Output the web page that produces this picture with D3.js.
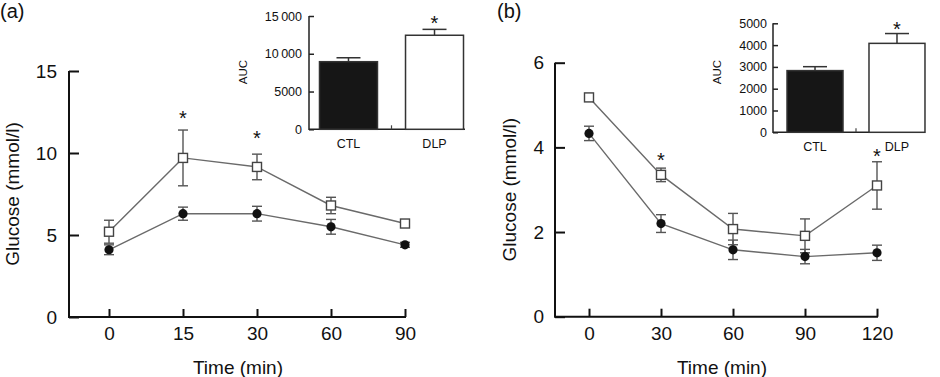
<!DOCTYPE html>
<html>
<head>
<meta charset="utf-8">
<script src="https://cdn.jsdelivr.net/npm/d3@7"></script>
<style>
  html, body { margin: 0; padding: 0; background: #fff; }
  svg { display: block; font-family: "Liberation Sans", Arial, sans-serif; }
</style>
</head>
<body>
<svg id="chart" width="940" height="377"></svg>
<script>
// ── Data ─────────────────────────────────────────────────────────────
const timesA = ["0", "15", "30", "60", "90"];
const ctlA   = [4.1, 6.3, 6.3, 5.5, 4.4];
const ctlAse = [0.3, 0.4, 0.45, 0.45, 0.15];
const dlpA   = [5.2, 9.7, 9.15, 6.8, 5.7];
const dlpAse = [0.7, 1.7, 0.78, 0.5, 0.15];
const sigA   = [null, 12.4, 11.2, null, null];

const timesB = ["0", "30", "60", "90", "120"];
const ctlB   = [4.33, 2.2, 1.58, 1.42, 1.51];
const ctlBse = [0.17, 0.21, 0.23, 0.17, 0.18];
const dlpB   = [5.18, 3.35, 2.07, 1.91, 3.1];
const dlpBse = [0.08, 0.16, 0.37, 0.4, 0.56];
const sigB   = [null, 3.82, null, null, 3.9];

const groups  = ["CTL", "DLP"];
const aucA    = [8950, 12450];
const aucAse  = [520, 780];
const aucSigA = [null, 14700];
const aucB    = [2830, 4080];
const aucBse  = [180, 450];
const aucSigB = [null, 4970];

const yTicksA = [0, 5, 10, 15];
const yTicksB = [0, 2, 4, 6];
const aucTicksA = [0, 5000, 10000, 15000];
const aucTicksB = [0, 1000, 2000, 3000, 4000, 5000];

const svg = d3.select("#chart");
const LINE = "#6a6a6a", ERR = "#555";

// ── Main line panel ─────────────────────────────────────────────────
function linePanel(o) {
    const g = svg.append("g");
    const x = d3.scalePoint().domain(o.times).range(o.xr);
    const y = d3.scaleLinear().domain(o.yd).range(o.yr);

    const yAxis = d3.axisLeft(y).tickValues(o.yTicks).tickFormat(d3.format("d"))
        .tickSize(-10).tickSizeOuter(0).tickPadding(o.yPad);
    const xAxis = d3.axisBottom(x).tickSize(-8).tickSizeOuter(0).tickPadding(10);

    const ya = g.append("g").attr("transform", `translate(${o.ax},0)`).call(yAxis);
    const xa = g.append("g").attr("transform", `translate(0,${o.yr[0]})`).call(xAxis);
    [ya, xa].forEach(a => {
        a.select(".domain").remove();
        a.selectAll("line").attr("stroke", "#111").attr("stroke-width", 2);
        a.selectAll("text").attr("fill", "#111").attr("font-size", 19)
            .attr("font-family", "'Liberation Sans', Arial, sans-serif");
    });
    g.append("path")
        .attr("d", `M${o.ax},${o.yr[1]}V${o.yr[0]}H${o.xEnd}`)
        .attr("fill", "none").attr("stroke", "#111").attr("stroke-width", 2);

    const line = d3.line().x((d, i) => x(o.times[i])).y(d => y(d));

    [[o.ctl, o.ctlSe], [o.dlp, o.dlpSe]].forEach(([vals, se]) => {
        const eb = g.append("g").attr("stroke", ERR).attr("stroke-width", 1.4);
        vals.forEach((v, i) => {
            const cx = x(o.times[i]);
            eb.append("line").attr("x1", cx).attr("x2", cx).attr("y1", y(v - se[i])).attr("y2", y(v + se[i]));
            [v - se[i], v + se[i]].forEach(e =>
                eb.append("line").attr("x1", cx - 5).attr("x2", cx + 5).attr("y1", y(e)).attr("y2", y(e)));
        });
        g.append("path").datum(vals).attr("d", line)
            .attr("fill", "none").attr("stroke", LINE).attr("stroke-width", 1.4);
    });

    g.selectAll(".ctl").data(o.ctl).enter().append("circle")
        .attr("cx", (d, i) => x(o.times[i])).attr("cy", d => y(d))
        .attr("r", 4.6).attr("fill", "#111");
    g.selectAll(".dlp").data(o.dlp).enter().append("rect")
        .attr("x", (d, i) => x(o.times[i]) - 4.5).attr("y", d => y(d) - 4.5)
        .attr("width", 9).attr("height", 9)
        .attr("fill", "#fff").attr("stroke", "#444").attr("stroke-width", 1.4);

    o.sig.forEach((s, i) => {
        if (s == null) return;
        g.append("text").attr("x", x(o.times[i])).attr("y", y(s)).attr("dy", "0.58em")
            .attr("text-anchor", "middle").attr("font-size", 20).attr("fill", "#111").text("*");
    });

    g.append("text").attr("x", o.xTitle).attr("y", 374).attr("text-anchor", "middle")
        .attr("font-size", 19).attr("fill", "#111").text("Time (min)");
    g.append("text").attr("transform", `translate(${o.yTitle},${(o.yr[0] + o.yr[1]) / 2}) rotate(-90)`)
        .attr("text-anchor", "middle").attr("font-size", 19).attr("fill", "#111").text("Glucose (mmol/l)");
    g.append("text").attr("x", o.labelX).attr("y", 18).attr("font-size", 20).attr("fill", "#111").text(o.label);
}

// ── AUC inset ───────────────────────────────────────────────────────
function inset(o) {
    const g = svg.append("g");
    const x = d3.scaleBand().domain(groups).range(o.xr).paddingInner(o.pi).paddingOuter(o.po);
    const y = d3.scaleLinear().domain(o.yd).range(o.yr);
    const fmt = d => d >= 10000 ? d3.format(",")(d).replace(",", "\u2009") : d;

    const ya = g.append("g").attr("transform", `translate(${o.ax},0)`)
        .call(d3.axisLeft(y).tickValues(o.ticks).tickFormat(fmt).tickSize(-5).tickSizeOuter(0).tickPadding(o.yPad));
    const xa = g.append("g").attr("transform", `translate(0,${o.yr[0]})`)
        .call(d3.axisBottom(x).tickSize(0).tickPadding(10));
    [ya, xa].forEach(a => {
        a.select(".domain").remove();
        a.selectAll("line").attr("stroke", "#222").attr("stroke-width", 1.5);
        a.selectAll("text").attr("fill", "#111").attr("font-size", 12.5)
            .attr("font-family", "'Liberation Sans', Arial, sans-serif");
    });
    g.append("path")
        .attr("d", `M${o.ax},${o.yr[1]}V${o.yr[0]}H${o.xEnd}`)
        .attr("fill", "none").attr("stroke", "#222").attr("stroke-width", 1.5);
    const mid = (x("CTL") + x.bandwidth() + x("DLP")) / 2;
    g.append("line").attr("x1", mid).attr("x2", mid).attr("y1", o.yr[0]).attr("y2", o.yr[0] - 4)
        .attr("stroke", "#444").attr("stroke-width", 1.2);

    const bw = x.bandwidth();
    o.vals.forEach((v, i) => {
        const bx = x(groups[i]), cx = bx + bw / 2;
        g.append("line").attr("x1", cx).attr("x2", cx).attr("y1", y(v)).attr("y2", y(v + o.se[i]))
            .attr("stroke", "#333").attr("stroke-width", 1.5);
        g.append("line").attr("x1", cx - 12).attr("x2", cx + 12).attr("y1", y(v + o.se[i])).attr("y2", y(v + o.se[i]))
            .attr("stroke", "#333").attr("stroke-width", 1.5);
        g.append("rect").attr("x", bx).attr("y", y(v)).attr("width", bw).attr("height", y(0) - y(v))
            .attr("fill", i === 0 ? "#161616" : "#fff").attr("stroke", "#333").attr("stroke-width", 1.5);
        if (o.sig[i] != null)
            g.append("text").attr("x", cx).attr("y", y(o.sig[i])).attr("dy", "0.58em")
                .attr("text-anchor", "middle").attr("font-size", 20).attr("fill", "#111").text("*");
    });

    g.append("text").attr("transform", `translate(${o.yTitle},${o.yTitleY}) rotate(-90)`)
        .attr("text-anchor", "middle").attr("font-size", 11.5).attr("fill", "#111").text("AUC");
}

linePanel({
    times: timesA, ctl: ctlA, ctlSe: ctlAse, dlp: dlpA, dlpSe: dlpAse, sig: sigA,
    xr: [109, 405], yd: [0, 15], yr: [317, 71], yTicks: yTicksA,
    ax: 69, xEnd: 406, yPad: 12, xTitle: 238, yTitle: 19, label: "(a)", labelX: 0
});
linePanel({
    times: timesB, ctl: ctlB, ctlSe: ctlBse, dlp: dlpB, dlpSe: dlpBse, sig: sigB,
    xr: [589, 877], yd: [0, 6], yr: [316.7, 62.7], yTicks: yTicksB,
    ax: 555, xEnd: 878, yPad: 11, xTitle: 722, yTitle: 516, label: "(b)", labelX: 497
});

inset({
    vals: aucA, se: aucAse, sig: aucSigA, ticks: aucTicksA,
    xr: [309, 474], pi: 0.326, po: 0.122, yd: [0, 15000], yr: [129.3, 16],
    ax: 309, xEnd: 465, yPad: 7, yTitle: 247, yTitleY: 72
});
inset({
    vals: aucB, se: aucBse, sig: aucSigB, ticks: aucTicksB,
    xr: [773, 939], pi: 0.317, po: 0.171, yd: [0, 5000], yr: [132.3, 23.3],
    ax: 773, xEnd: 925, yPad: 6, yTitle: 721, yTitleY: 72
});
</script>
</body>
</html>
